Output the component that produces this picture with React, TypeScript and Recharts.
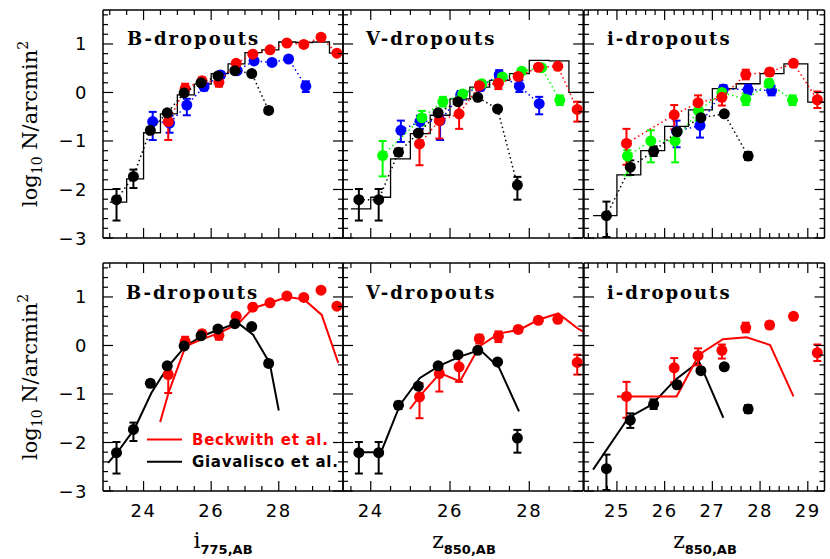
import React from 'react';
import { ComposedChart, XAxis, YAxis, Line, Scatter, ErrorBar } from 'recharts';

// ---- B-dropouts (i775) ----
const bGiaX = [23.2, 23.7, 24.2, 24.7, 25.2, 25.7, 26.2, 26.7, 27.2, 27.7];
const bGiaY = [-2.21, -1.73, -0.78, -0.42, -0.01, 0.2, 0.34, 0.45, 0.39, -0.37];
const bGiaLo = [0.43, 0.24, 0.06, 0.05, 0.04, 0.03, 0.03, 0.03, 0.04, 0.06];
const bGiaHi = [0.22, 0.14, 0.06, 0.05, 0.04, 0.03, 0.03, 0.03, 0.04, 0.06];

const bBecX = [24.73, 25.23, 25.73, 26.23, 26.74, 27.23, 27.74, 28.24, 28.74, 29.25, 29.72];
const bBecY = [-0.6, 0.08, 0.24, 0.21, 0.6, 0.79, 0.88, 1.02, 0.99, 1.14, 0.81];
const bBecLo = [0.38, 0.12, 0.08, 0.09, 0.07, 0.04, 0.03, 0.03, 0.03, 0.03, 0.03];
const bBecHi = [0.08, 0.1, 0.07, 0.07, 0.05, 0.04, 0.03, 0.03, 0.03, 0.03, 0.03];

const bBluX = [24.27, 24.77, 25.28, 25.79, 26.28, 26.77, 27.27, 27.8, 28.29, 28.8];
const bBluY = [-0.6, -0.63, -0.26, 0.12, 0.36, 0.45, 0.65, 0.62, 0.69, 0.13];
const bBluLo = [0.38, 0.2, 0.21, 0.08, 0.06, 0.05, 0.04, 0.05, 0.05, 0.12];
const bBluHi = [0.2, 0.15, 0.13, 0.07, 0.06, 0.05, 0.04, 0.05, 0.05, 0.1];

const bHistEdges = [23.0, 23.5, 24.0, 24.5, 25.0, 25.5, 26.0, 26.5, 27.0, 27.5, 28.0, 28.5, 29.0, 29.5, 29.9];
const bHistVals = [-2.26, -1.78, -0.83, -0.44, -0.05, 0.17, 0.39, 0.59, 0.82, 0.88, 1.04, 1.03, 1.04, 0.81];

const bGiaModX = [22.95, 23.25, 23.73, 24.23, 24.73, 25.23, 25.74, 26.25, 26.78, 27.24, 27.73, 28.0];
const bGiaModY = [-2.42, -2.18, -1.72, -0.98, -0.43, -0.02, 0.2, 0.33, 0.47, 0.22, -0.36, -1.34];
const bBecModX = [24.49, 24.75, 25.24, 25.74, 26.25, 26.8, 27.24, 27.75, 28.25, 28.75, 29.27, 29.76];
const bBecModY = [-1.58, -0.95, -0.02, 0.13, 0.26, 0.45, 0.77, 0.88, 1.0, 0.95, 0.63, -0.36];

// ---- V-dropouts (z850) ----
const vGiaX = [23.7, 24.2, 24.7, 25.2, 25.7, 26.2, 26.7, 27.2, 27.7];
const vGiaY = [-2.21, -2.21, -1.23, -0.84, -0.42, -0.19, -0.1, -0.34, -1.91];
const vGiaLo = [0.43, 0.43, 0.08, 0.06, 0.04, 0.03, 0.03, 0.04, 0.3];
const vGiaHi = [0.22, 0.22, 0.07, 0.05, 0.04, 0.03, 0.03, 0.04, 0.17];

const vBecX = [25.23, 25.73, 26.23, 26.74, 27.22, 27.72, 28.23, 28.72, 29.21];
const vBecY = [-1.06, -0.58, -0.44, 0.14, 0.19, 0.33, 0.52, 0.54, -0.35];
const vBecLo = [0.44, 0.37, 0.31, 0.1, 0.12, 0.06, 0.05, 0.05, 0.25];
const vBecHi = [0.28, 0.1, 0.21, 0.08, 0.1, 0.06, 0.05, 0.05, 0.16];

const vBluX = [24.76, 25.24, 25.75, 26.27, 26.77, 27.24, 27.75, 28.25];
const vBluY = [-0.78, -0.6, -0.58, -0.05, 0.12, 0.36, 0.13, -0.23];
const vBluLo = [0.24, 0.15, 0.4, 0.1, 0.08, 0.1, 0.12, 0.22];
const vBluHi = [0.2, 0.12, 0.1, 0.08, 0.08, 0.1, 0.12, 0.14];

const vGrnX = [24.3, 25.29, 25.82, 26.32, 26.8, 27.32, 27.81, 28.31, 28.77];
const vGrnY = [-1.3, -0.52, -0.19, -0.03, 0.18, 0.32, 0.44, 0.51, -0.16];
const vGrnLo = [0.43, 0.16, 0.1, 0.06, 0.05, 0.05, 0.04, 0.04, 0.1];
const vGrnHi = [0.3, 0.14, 0.1, 0.06, 0.05, 0.05, 0.04, 0.04, 0.1];

const vHistEdges = [23.5, 24.0, 24.5, 25.0, 25.5, 26.0, 26.5, 27.0, 27.5, 28.0, 28.5, 29.0, 29.35];
const vHistVals = [-2.4, -2.16, -1.37, -0.85, -0.47, -0.13, 0.11, 0.25, 0.39, 0.66, 0.65, 0.0];

const vGiaModX = [23.74, 24.26, 24.74, 25.24, 25.75, 26.25, 26.76, 27.24, 27.74];
const vGiaModY = [-2.2, -2.2, -1.22, -0.67, -0.41, -0.23, -0.09, -0.46, -1.36];
const vBecModX = [24.99, 25.23, 25.75, 26.25, 26.74, 27.24, 27.74, 28.23, 28.73, 29.24, 29.35];
const vBecModY = [-1.31, -1.05, -0.57, -0.74, -0.02, 0.25, 0.32, 0.53, 0.66, 0.34, 0.29];

// ---- i-dropouts (z850) ----
const iGiaX = [24.78, 25.28, 25.77, 26.26, 26.76, 27.25, 27.75];
const iGiaY = [-2.54, -1.54, -1.21, -0.81, -0.52, -0.44, -1.31];
const iGiaLo = [0.44, 0.16, 0.1, 0.07, 0.05, 0.05, 0.08];
const iGiaHi = [0.29, 0.14, 0.1, 0.07, 0.05, 0.05, 0.08];

const iBecX = [25.2, 26.2, 26.7, 27.2, 27.7, 28.2, 28.7, 29.2];
const iBecY = [-1.05, -0.46, -0.21, -0.1, 0.37, 0.42, 0.6, -0.15];
const iBecLo = [0.44, 0.3, 0.2, 0.17, 0.1, 0.07, 0.05, 0.17];
const iBecHi = [0.3, 0.2, 0.15, 0.12, 0.1, 0.07, 0.05, 0.17];

const iGrnX = [25.22, 25.71, 26.22, 26.71, 27.2, 27.7, 28.19, 28.68];
const iGrnY = [-1.31, -1.0, -1.0, -0.38, 0.0, -0.14, 0.19, -0.16];
const iGrnLo = [0.4, 0.44, 0.44, 0.2, 0.08, 0.12, 0.08, 0.1];
const iGrnHi = [0.12, 0.22, 0.22, 0.12, 0.08, 0.12, 0.08, 0.1];

const iBluX = [26.25, 26.74, 27.23, 27.75, 28.24];
const iBluY = [-0.8, -0.68, 0.07, 0.06, 0.04];
const iBluLo = [0.33, 0.25, 0.08, 0.1, 0.1];
const iBluHi = [0.22, 0.14, 0.08, 0.1, 0.1];

const iHistEdges = [24.5, 25.0, 25.5, 26.0, 26.5, 27.0, 27.5, 28.0, 28.5, 29.0, 29.35];
const iHistVals = [-2.54, -1.7, -1.2, -0.7, -0.36, 0.08, 0.18, 0.39, 0.59, -0.2];

const iGiaModX = [24.5, 25.24, 25.73, 26.22, 26.72, 27.23];
const iGiaModY = [-2.56, -1.49, -1.22, -0.71, -0.33, -1.49];
const iBecModX = [25.0, 26.25, 26.72, 27.22, 27.72, 28.21, 28.7];
const iBecModY = [-1.05, -1.05, -0.19, 0.13, 0.17, 0.01, -1.05];

const titles = ['B-dropouts', 'V-dropouts', 'i-dropouts'];
const yMajor = [-3, -2, -1, 0, 1];

const RED = '#ff0000';
const BLUE = '#0000ff';
const GREEN = '#00ff00';
const BLACK = '#000000';

const range = (a: number, b: number, s: number) => {
  const out: number[] = [];
  for (let i = 0; a + i * s <= b + 1e-9; i++) out.push(Math.round((a + i * s) * 100) / 100);
  return out;
};

const pts = (x: number[], y: number[], lo: number[], hi: number[]) =>
  x.map((v, i) => ({ x: v, y: y[i], e: [lo[i], hi[i]] }));
const curve = (x: number[], y: number[]) => x.map((v, i) => ({ x: v, y: y[i] }));
const steps = (edges: number[], vals: number[]) =>
  edges.map((v, i) => ({ x: v, y: vals[Math.min(i, vals.length - 1)] }));

const COLS = [
  { left: 103.3, width: 240, domain: [22.8, 29.9], major: [24, 26, 28], minor: range(23, 29.5, 0.5) },
  { left: 343.3, width: 240.2, domain: [23.3, 29.36], major: [24, 26, 28], minor: range(23.5, 29, 0.5) },
  { left: 583.5, width: 240.5, domain: [24.31, 29.35], major: [25, 26, 27, 28, 29], minor: range(24.4, 29.2, 0.2) },
];
const ROWS = [
  { top: 10, height: 228 },
  { top: 263, height: 228 },
];
const yMinor = range(-3, 1.6, 0.2);

const tickFont: React.CSSProperties = { fontFamily: 'DejaVu Sans', fontSize: 18, letterSpacing: 1.5, fill: '#000' };

const isIn = (v: number, list: number[]) => list.some((m) => Math.abs(m - v) < 1e-6);
const fmt = (v: number) => (v < 0 ? '\u2212' + Math.abs(v) : String(v));

const makeTick = (side: string, major: number[], label: boolean) => (p: any) => {
  const v = p.payload.value;
  const big = isIn(v, major);
  const len = big ? 10 : 5;
  let x2 = p.x;
  let y2 = p.y;
  if (side === 'bottom') y2 -= len;
  if (side === 'top') y2 += len;
  if (side === 'left') x2 += len;
  if (side === 'right') x2 -= len;
  return (
    <g>
      <line x1={p.x} y1={p.y} x2={x2} y2={y2} stroke="#000" strokeWidth={1.2} />
      {label && big && side === 'bottom' ? (
        <text x={p.x} y={p.y + 26} textAnchor="middle" style={tickFont}>{fmt(v)}</text>
      ) : null}
      {label && big && side === 'left' ? (
        <text x={p.x - 15} y={p.y + 6.5} textAnchor="end" style={tickFont}>{fmt(v)}</text>
      ) : null}
    </g>
  );
};

const dotSeries = (key: string, d: any[], color: string, dotted: boolean) => (
  <Scatter
    key={key}
    data={d}
    xAxisId="x"
    yAxisId="y"
    fill={color}
    isAnimationActive={false}
    line={dotted ? { stroke: color, strokeWidth: 1.5, strokeDasharray: '1.5 3' } : false}
    shape={(p: any) => <circle cx={p.cx} cy={p.cy} r={5.5} fill={color} />}
  >
    <ErrorBar dataKey="e" direction="y" width={4} stroke={color} strokeWidth={2} isAnimationActive={false} />
  </Scatter>
);

const curveSeries = (key: string, d: any[], color: string, w: number, type: any) => (
  <Line
    key={key}
    data={d}
    dataKey="y"
    xAxisId="x"
    yAxisId="y"
    type={type}
    stroke={color}
    strokeWidth={w}
    dot={false}
    activeDot={false}
    isAnimationActive={false}
  />
);

const ML = [45, 10, 10];
const MR = 10;
const MT = 10;
const MB = 40;

const Panel = ({ col, row, children }: { col: number; row: number; children: React.ReactNode }) => {
  const c = COLS[col];
  const r = ROWS[row];
  const ml = ML[col];
  const axisLine = { stroke: '#000', strokeWidth: 1.5 };
  return (
    <div style={{ position: 'absolute', left: c.left - ml, top: r.top - MT }}>
      <ComposedChart
        width={c.width + ml + MR}
        height={r.height + MT + MB}
        margin={{ top: MT - 1, right: MR - 1, bottom: MB - 1, left: ml - 1 }}
      >
        <XAxis xAxisId="x" dataKey="x" type="number" domain={c.domain} allowDataOverflow ticks={c.minor}
          interval={0} height={1} tickSize={0} tickMargin={0} tickLine={false} axisLine={axisLine}
          tick={makeTick('bottom', c.major, row === 1)} />
        <XAxis xAxisId="xt" dataKey="x" type="number" orientation="top" domain={c.domain} allowDataOverflow
          ticks={c.minor} interval={0} height={1} tickSize={0} tickMargin={0} tickLine={false} axisLine={axisLine}
          tick={makeTick('top', c.major, false)} />
        <YAxis yAxisId="y" dataKey="y" type="number" domain={[-3, 1.7]} allowDataOverflow ticks={yMinor}
          interval={0} width={1} tickSize={0} tickMargin={0} tickLine={false} axisLine={axisLine}
          tick={makeTick('left', yMajor, col === 0)} />
        <YAxis yAxisId="yr" dataKey="y" type="number" orientation="right" domain={[-3, 1.7]} allowDataOverflow
          ticks={yMinor} interval={0} width={1} tickSize={0} tickMargin={0} tickLine={false} axisLine={axisLine}
          tick={makeTick('right', yMajor, false)} />
        {children}
      </ComposedChart>
    </div>
  );
};

const titleStyle: React.CSSProperties = { fontFamily: 'DejaVu Serif', fontSize: 18, fontWeight: 'bold', letterSpacing: 2 };
const legendStyle: React.CSSProperties = { fontFamily: 'DejaVu Sans', fontSize: 15, fontWeight: 'bold', letterSpacing: 0.7 };

const titlePos = [
  [127, 45], [366, 45], [607, 45],
  [126, 299], [366, 299], [607, 299],
];

const YTitle = ({ cy }: { cy: number }) => (
  <text transform={`translate(37,${cy}) rotate(-90)`} textAnchor="middle" fontFamily="DejaVu Serif" fontSize={21}>
    log<tspan fontSize={14} dy={5}>10</tspan>
    <tspan dy={-5}> N/arcmin</tspan>
    <tspan fontSize={14} dy={-9}>2</tspan>
  </text>
);

const XTitle = ({ cx, letter, sub }: { cx: number; letter: string; sub: string }) => (
  <text x={cx} y={548} textAnchor="middle">
    <tspan fontFamily="DejaVu Serif" fontSize={22}>{letter}</tspan>
    <tspan fontFamily="DejaVu Sans" fontWeight="bold" fontSize={13} dy={6}>{sub}</tspan>
  </text>
);

export default function App() {
  return (
    <div style={{ position: 'absolute', left: 0, top: 0, width: 830, height: 559, background: '#fff' }}>
      {/* top row: data with dotted connectors and model histograms */}
      <Panel col={0} row={0}>
        {curveSeries('h', steps(bHistEdges, bHistVals), BLACK, 1.3, 'stepAfter')}
        {dotSeries('blu', pts(bBluX, bBluY, bBluLo, bBluHi), BLUE, true)}
        {dotSeries('bec', pts(bBecX, bBecY, bBecLo, bBecHi), RED, true)}
        {dotSeries('gia', pts(bGiaX, bGiaY, bGiaLo, bGiaHi), BLACK, true)}
      </Panel>
      <Panel col={1} row={0}>
        {curveSeries('h', steps(vHistEdges, vHistVals), BLACK, 1.3, 'stepAfter')}
        {dotSeries('blu', pts(vBluX, vBluY, vBluLo, vBluHi), BLUE, true)}
        {dotSeries('grn', pts(vGrnX, vGrnY, vGrnLo, vGrnHi), GREEN, true)}
        {dotSeries('bec', pts(vBecX, vBecY, vBecLo, vBecHi), RED, true)}
        {dotSeries('gia', pts(vGiaX, vGiaY, vGiaLo, vGiaHi), BLACK, true)}
      </Panel>
      <Panel col={2} row={0}>
        {curveSeries('h', steps(iHistEdges, iHistVals), BLACK, 1.3, 'stepAfter')}
        {dotSeries('blu', pts(iBluX, iBluY, iBluLo, iBluHi), BLUE, true)}
        {dotSeries('grn', pts(iGrnX, iGrnY, iGrnLo, iGrnHi), GREEN, true)}
        {dotSeries('bec', pts(iBecX, iBecY, iBecLo, iBecHi), RED, true)}
        {dotSeries('gia', pts(iGiaX, iGiaY, iGiaLo, iGiaHi), BLACK, true)}
      </Panel>

      {/* bottom row: data vs. model curves */}
      <Panel col={0} row={1}>
        {curveSeries('gm', curve(bGiaModX, bGiaModY), BLACK, 2, 'linear')}
        {curveSeries('bm', curve(bBecModX, bBecModY), RED, 2, 'linear')}
        {dotSeries('bec', pts(bBecX, bBecY, bBecLo, bBecHi), RED, false)}
        {dotSeries('gia', pts(bGiaX, bGiaY, bGiaLo, bGiaHi), BLACK, false)}
      </Panel>
      <Panel col={1} row={1}>
        {curveSeries('gm', curve(vGiaModX, vGiaModY), BLACK, 2, 'linear')}
        {curveSeries('bm', curve(vBecModX, vBecModY), RED, 2, 'linear')}
        {dotSeries('bec', pts(vBecX, vBecY, vBecLo, vBecHi), RED, false)}
        {dotSeries('gia', pts(vGiaX, vGiaY, vGiaLo, vGiaHi), BLACK, false)}
      </Panel>
      <Panel col={2} row={1}>
        {curveSeries('gm', curve(iGiaModX, iGiaModY), BLACK, 2, 'linear')}
        {curveSeries('bm', curve(iBecModX, iBecModY), RED, 2, 'linear')}
        {dotSeries('bec', pts(iBecX, iBecY, iBecLo, iBecHi), RED, false)}
        {dotSeries('gia', pts(iGiaX, iGiaY, iGiaLo, iGiaHi), BLACK, false)}
      </Panel>

      <svg width={830} height={559} style={{ position: 'absolute', left: 0, top: 0, pointerEvents: 'none' }}>
        {titlePos.map(([x, y], i) => (
          <text key={i} x={x} y={y} style={titleStyle}>{titles[i % 3]}</text>
        ))}
        <YTitle cy={124} />
        <YTitle cy={377} />
        <XTitle cx={223} letter="i" sub="775,AB" />
        <XTitle cx={464} letter="z" sub="850,AB" />
        <XTitle cx={705} letter="z" sub="850,AB" />
        <line x1={147} y1={439.5} x2={182} y2={439.5} stroke={RED} strokeWidth={2} />
        <text x={192} y={445} fill={RED} style={legendStyle}>Beckwith et al.</text>
        <line x1={147} y1={461.7} x2={182} y2={461.7} stroke={BLACK} strokeWidth={2} />
        <text x={192} y={467} fill={BLACK} style={legendStyle}>Giavalisco et al.</text>
      </svg>
    </div>
  );
}
